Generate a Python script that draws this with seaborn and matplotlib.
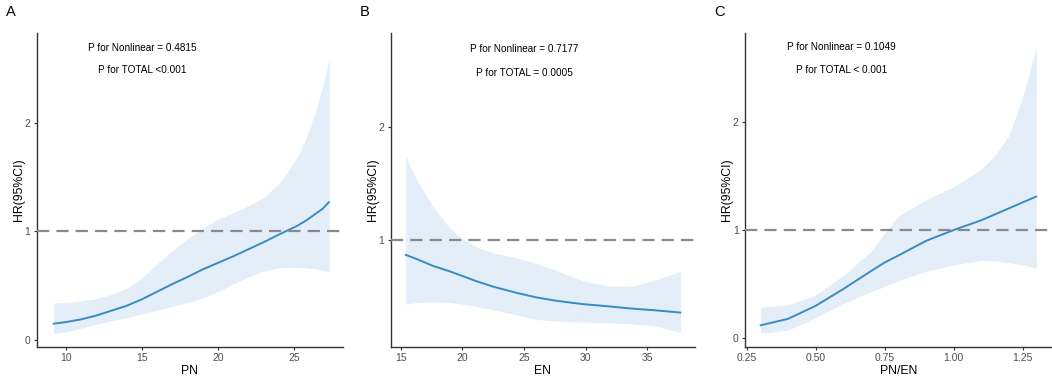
import numpy as np
import pandas as pd
import seaborn as sns
import matplotlib
matplotlib.use("Agg")
import matplotlib.pyplot as plt

# ---- data ----
pn_x = [9.2, 10, 11, 12, 13, 14, 15, 16, 17, 18, 19, 20, 21, 22, 23, 24, 24.6, 25.2, 25.8, 26.4, 26.9, 27.3]
pn_hr = [0.15, 0.165, 0.19, 0.225, 0.27, 0.315, 0.375, 0.445, 0.515, 0.58, 0.65, 0.71, 0.77, 0.835, 0.90, 0.97, 1.01, 1.05, 1.10, 1.16, 1.21, 1.27]
pn_lo = [0.06, 0.075, 0.11, 0.145, 0.175, 0.205, 0.24, 0.275, 0.31, 0.345, 0.39, 0.445, 0.515, 0.58, 0.635, 0.665, 0.67, 0.67, 0.665, 0.655, 0.64, 0.63]
pn_hi = [0.34, 0.345, 0.36, 0.38, 0.42, 0.475, 0.57, 0.70, 0.82, 0.93, 1.03, 1.11, 1.17, 1.235, 1.31, 1.44, 1.55, 1.68, 1.86, 2.10, 2.34, 2.58]

en_x = [15.4, 16.3, 17.6, 19, 20, 21.1, 22.5, 24.4, 26, 27.6, 29.8, 31.9, 33.8, 35.7, 37.7]
en_hr = [0.867, 0.83, 0.77, 0.72, 0.68, 0.635, 0.585, 0.53, 0.49, 0.46, 0.43, 0.41, 0.39, 0.375, 0.355]
en_lo = [0.43, 0.445, 0.45, 0.445, 0.43, 0.41, 0.38, 0.335, 0.295, 0.28, 0.27, 0.265, 0.255, 0.235, 0.18]
en_hi = [1.745, 1.53, 1.30, 1.10, 1.01, 0.94, 0.885, 0.84, 0.79, 0.73, 0.635, 0.59, 0.59, 0.645, 0.72]

ratio_x = [0.3, 0.4, 0.5, 0.6, 0.7, 0.75, 0.8, 0.9, 1.0, 1.1, 1.15, 1.2, 1.25, 1.3]
ratio_hr = [0.12, 0.18, 0.30, 0.455, 0.62, 0.70, 0.765, 0.90, 1.0, 1.09, 1.145, 1.20, 1.255, 1.31]
ratio_lo = [0.046, 0.075, 0.19, 0.32, 0.43, 0.48, 0.53, 0.62, 0.68, 0.72, 0.715, 0.70, 0.68, 0.65]
ratio_hi = [0.285, 0.31, 0.40, 0.58, 0.80, 0.97, 1.13, 1.28, 1.40, 1.56, 1.69, 1.87, 2.22, 2.69]

panel_letters = ["A", "B", "C"]
x_labels = ["PN", "EN", "PN/EN"]
p_nonlinear = ["P for Nonlinear = 0.4815", "P for Nonlinear = 0.7177", "P for Nonlinear = 0.1049"]
p_total = ["P for TOTAL <0.001", "P for TOTAL = 0.0005", "P for TOTAL < 0.001"]

sns.set_theme(style="ticks")
plt.rcParams['font.family'] = ['Liberation Sans', 'DejaVu Sans']

fig = plt.figure(figsize=(10.52, 3.77), dpi=100)
W, H = 1052, 377
boxes = [(36.7, 342.7), (390.7, 695.0), (745.0, 1051.5)]
top_px, bot_px = 33.0, 347.0

panels = [
    (pn_x, pn_hr, pn_lo, pn_hi, (8.09, 28.2), (-0.064, 2.825), [10, 15, 20, 25], ["10", "15", "20", "25"], [0, 1, 2], 15.0),
    (en_x, en_hr, en_lo, en_hi, (14.19, 38.87), (0.05, 2.834), [15, 20, 25, 30, 35], ["15", "20", "25", "30", "35"], [1, 2], 25.0),
    (ratio_x, ratio_hr, ratio_lo, ratio_hi, (0.244, 1.355), (-0.08, 2.82), [0.25, 0.5, 0.75, 1.0, 1.25], ["0.25", "0.50", "0.75", "1.00", "1.25"], [0, 1, 2], 0.595),
]

line_col = "#3A8BC2"
band_col = "#E3EEF8"

for i, (box, pdata) in enumerate(zip(boxes, panels)):
    x, hr, lo, hi, xlim, ylim, xt, xtl, yt, tx = pdata
    l, r = box
    ax = fig.add_axes([l / W, (H - bot_px) / H, (r - l) / W, (bot_px - top_px) / H])
    df = pd.DataFrame({"x": x, "hr": hr, "lo": lo, "hi": hi})
    ax.fill_between(df["x"], df["lo"], df["hi"], color=band_col, lw=0, zorder=1)
    sns.lineplot(data=df, x="x", y="hr", ax=ax, color=line_col, lw=1.4, zorder=3)
    ax.axhline(1, color="#8A8A8A", lw=1.6, dashes=(5.5, 3.2), zorder=4)
    ax.set_xlim(*xlim)
    ax.set_ylim(*ylim)
    ax.set_xticks(xt)
    ax.set_xticklabels(xtl)
    ax.set_yticks(yt)
    ax.set_yticklabels([str(v) for v in yt])
    for s in ["top", "right"]:
        ax.spines[s].set_visible(False)
    for s in ["left", "bottom"]:
        ax.spines[s].set_color("#333333")
        ax.spines[s].set_linewidth(1.0)
    ax.tick_params(axis="both", colors="#333333", labelcolor="#4D4D4D", labelsize=7.5,
                   length=2.5, width=0.8, pad=2)
    ax.set_xlabel(x_labels[i], fontsize=8.8, color="black", labelpad=1)
    ax.set_ylabel("HR(95%CI)", fontsize=8.8, color="black", labelpad=0)
    ax.text(tx, 2.69, p_nonlinear[i], ha="center", va="center", fontsize=7.2, color="black")
    ax.text(tx, 2.48, p_total[i], ha="center", va="center", fontsize=7.2, color="black")
    fig.text((l - 31) / W, 1 - 12 / H, panel_letters[i], ha="left", va="center", fontsize=10.5, color="black")

fig.savefig("out.png", dpi=100)
